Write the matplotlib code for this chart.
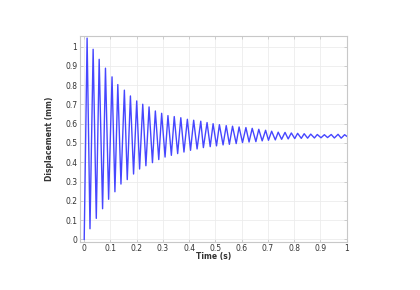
import matplotlib
matplotlib.use('Agg')
import matplotlib.pyplot as plt

# extrema (time in s, displacement in mm)
start_t = [0.0]
start_v = [0.0]
peak_t = [0.011, 0.034, 0.057, 0.081, 0.106, 0.128, 0.153, 0.176, 0.200, 0.223,
          0.247, 0.271, 0.295, 0.319, 0.343, 0.368, 0.393, 0.417, 0.444, 0.468,
          0.491, 0.515, 0.541, 0.565, 0.590, 0.616, 0.640, 0.665, 0.691, 0.714,
          0.739, 0.765, 0.789, 0.813, 0.838, 0.863, 0.888, 0.915, 0.941, 0.967,
          0.992]
peak_v = [1.044, 0.986, 0.934, 0.888, 0.843, 0.803, 0.774, 0.744, 0.718, 0.701,
          0.687, 0.666, 0.654, 0.642, 0.637, 0.631, 0.623, 0.618, 0.613, 0.606,
          0.600, 0.595, 0.590, 0.587, 0.583, 0.580, 0.576, 0.571, 0.566, 0.561,
          0.556, 0.555, 0.552, 0.550, 0.548, 0.546, 0.544, 0.543, 0.544, 0.545,
          0.543]
trough_t = [0.022, 0.046, 0.070, 0.093, 0.117, 0.140, 0.164, 0.188, 0.211, 0.235,
            0.260, 0.284, 0.308, 0.332, 0.356, 0.380, 0.405, 0.430, 0.454, 0.480,
            0.504, 0.529, 0.553, 0.579, 0.603, 0.628, 0.654, 0.678, 0.702, 0.728,
            0.752, 0.777, 0.802, 0.827, 0.851, 0.877, 0.902, 0.927, 0.953, 0.979]
trough_v = [0.055, 0.109, 0.159, 0.208, 0.247, 0.287, 0.310, 0.339, 0.365, 0.382,
            0.398, 0.414, 0.427, 0.436, 0.445, 0.453, 0.462, 0.469, 0.476, 0.481,
            0.485, 0.490, 0.493, 0.497, 0.502, 0.505, 0.507, 0.511, 0.514, 0.516,
            0.519, 0.521, 0.523, 0.524, 0.525, 0.526, 0.527, 0.528, 0.526, 0.525]
end_t = [1.0]
end_v = [0.535]

pts = sorted(zip(start_t + peak_t + trough_t + end_t,
                 start_v + peak_v + trough_v + end_v))
t = [p[0] for p in pts]
u = [p[1] for p in pts]

xticks = [0, 0.1, 0.2, 0.3, 0.4, 0.5, 0.6, 0.7, 0.8, 0.9, 1]
xlabels = ['0', '0.1', '0.2', '0.3', '0.4', '0.5', '0.6', '0.7', '0.8', '0.9', '1']
yticks = [0, 0.1, 0.2, 0.3, 0.4, 0.5, 0.6, 0.7, 0.8, 0.9, 1]
ylabels = ['0', '0.1', '0.2', '0.3', '0.4', '0.5', '0.6', '0.7', '0.8', '0.9', '1']

fig = plt.figure(figsize=(4.2, 2.9), dpi=100)
ax = fig.add_axes([0.1905, 0.1666, 0.635, 0.7093])
ax.plot(t, u, color='#4646ff', lw=1.0, solid_joinstyle='round')

ax.set_xlim(-0.016, 1.0)
ax.set_ylim(-0.012, 1.055)
ax.set_xticks(xticks)
ax.set_xticklabels(xlabels)
ax.set_yticks(yticks)
ax.set_yticklabels(ylabels)
ax.grid(True, color='#ececec', lw=0.6)
ax.set_axisbelow(True)
for s in ax.spines.values():
    s.set_color('#c8c8c8')
    s.set_linewidth(0.8)
ax.tick_params(axis='both', labelsize=5.5, colors='#c8c8c8', labelcolor='#333333',
               length=2, width=0.6, pad=2, direction='in')
ax.tick_params(right=True, top=True)
ax.set_xlabel('Time (s)', fontsize=5.5, color='#333333', labelpad=-1, fontweight='bold')
ax.set_ylabel('Displacement (mm)', fontsize=5.5, color='#333333', labelpad=8, fontweight='bold')

plt.savefig('out.png', dpi=100)
